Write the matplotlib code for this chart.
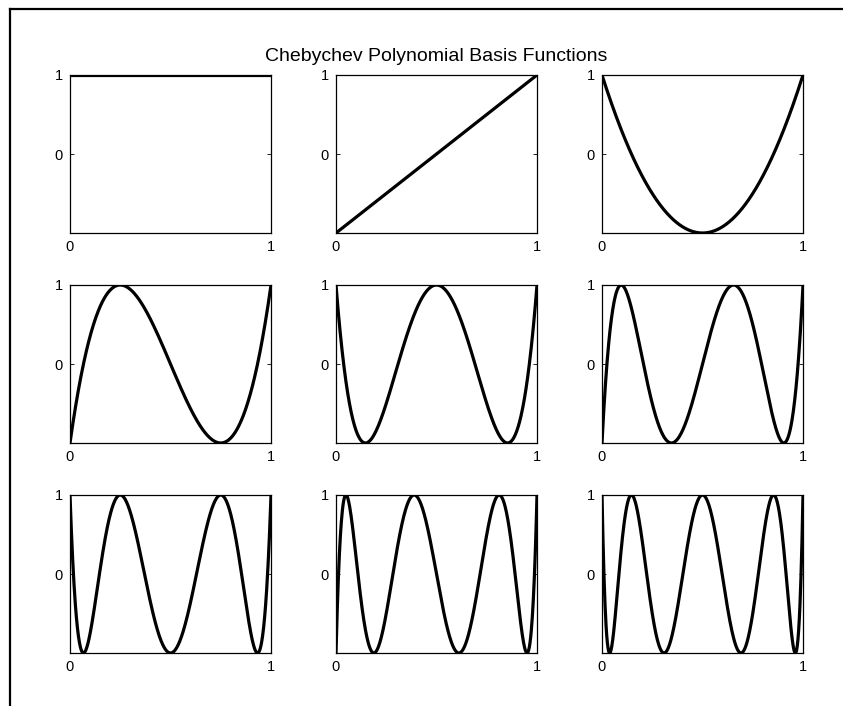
import numpy as np
import matplotlib.pyplot as plt
from matplotlib.lines import Line2D
from numpy.polynomial import chebyshev as C

plt.rcParams['font.family'] = ['Liberation Sans', 'DejaVu Sans']
plt.rcParams['font.size'] = 10.5

# basis degrees shown, one per panel
degrees = [0, 1, 2, 3, 4, 5, 6, 7, 8]
xtick_vals = [0, 1]
ytick_vals = [0, 1]
title = 'Chebychev Polynomial Basis Functions'

W, H = 843, 706
fig = plt.figure(figsize=(W / 100, H / 100), dpi=100)

# outer frame (only left and top edges fall inside the canvas)
fig.add_artist(Line2D([9.5 / W, 9.5 / W], [0, 1 - 8.5 / H], transform=fig.transFigure,
                      color='black', lw=1.6))
fig.add_artist(Line2D([9.5 / W, 1], [1 - 8.5 / H, 1 - 8.5 / H], transform=fig.transFigure,
                      color='black', lw=1.6))

col_left = [70, 336, 602]
row_top = [75, 285, 495]
aw, ah = 201, 158

x = np.linspace(0, 1, 600)
for i, n in enumerate(degrees):
    r, c = divmod(i, 3)
    ax = fig.add_axes([col_left[c] / W, 1 - (row_top[r] + ah) / H, aw / W, ah / H])
    T = C.Chebyshev.basis(n, domain=[0, 1])
    ax.plot(x, T(x), color='black', lw=2.3)
    ax.set_xlim(0, 1)
    ax.set_ylim(-1, 1)
    ax.set_xticks(xtick_vals)
    ax.set_yticks(ytick_vals)
    ax.set_xticklabels([str(v) for v in xtick_vals])
    ax.set_yticklabels([str(v) for v in ytick_vals])
    ax.tick_params(direction='in', length=3, width=0.6, pad=5, top=True, right=True,
                   labelsize=10.5)
    for s in ax.spines.values():
        s.set_linewidth(0.9)
    if i == 1:
        ax.set_title(title, fontsize=14, pad=10)

fig.savefig('out.png', dpi=100)
